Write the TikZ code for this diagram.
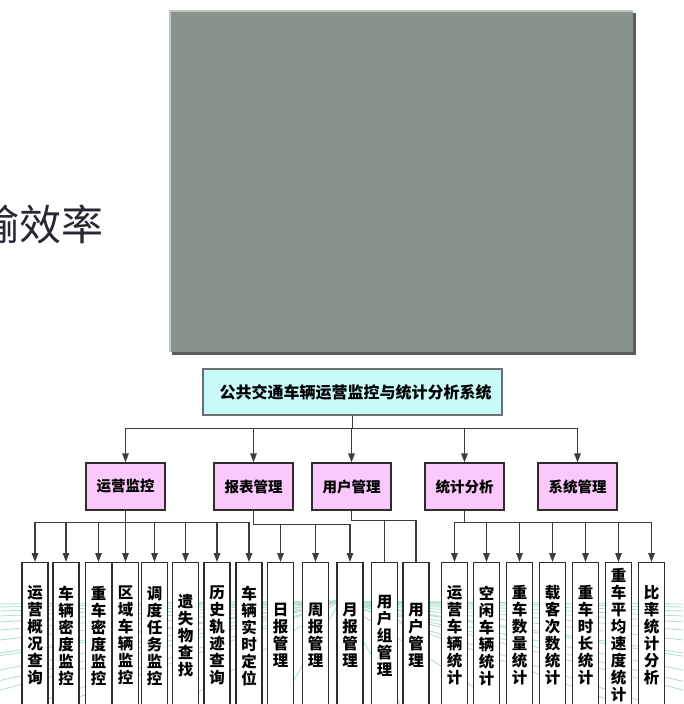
\documentclass[tikz,border=0pt]{standalone}
\usepackage{fontspec}
\newfontfamily\cjk{Noto Sans CJK SC}
\usetikzlibrary{arrows.meta}
\definecolor{rootfill}{RGB}{200,250,250}
\definecolor{rootline}{RGB}{110,110,110}
\definecolor{midfill}{RGB}{250,200,250}
\definecolor{boxline}{RGB}{45,45,45}
\definecolor{wire}{RGB}{60,60,60}
\definecolor{panel}{RGB}{138,146,140}
\definecolor{panellight}{RGB}{190,198,194}
\definecolor{panelshadow}{RGB}{88,95,90}
\definecolor{gridgreen}{RGB}{175,222,198}
\definecolor{toptext}{RGB}{40,40,52}
\begin{document}
\begin{tikzpicture}[x=1pt,y=-1pt,
  rootbox/.style={draw=rootline,line width=1.4pt,fill=rootfill,minimum width=299pt,minimum height=46pt,inner sep=0pt,font=\cjk\bfseries\fontsize{16}{18}\selectfont},
  midbox/.style={draw=boxline,line width=1.2pt,fill=midfill,minimum width=79pt,minimum height=47pt,inner sep=0pt,font=\cjk\bfseries\fontsize{14.5}{16}\selectfont},
  leafbox/.style={draw=boxline,line width=1.2pt,fill=white,anchor=north,minimum width=26pt,minimum height=146pt,inner sep=0pt,align=center,font=\cjk\bfseries\fontsize{15.5}{17}\selectfont},
  arr/.style={draw=wire,line width=1.3pt,-{Triangle[length=9pt,width=6.5pt]}},
  plainline/.style={draw=wire,line width=1.3pt}]
\useasboundingbox (0,0) rectangle (683,704);
\clip (0,0) rectangle (683,704);
\fill[white] (0,0) rectangle (683,704);
% top fragment
\node[anchor=east,inner sep=0pt,text=toptext,font=\cjk\fontsize{42}{44}\selectfont] (frag) at (104,224) {输效率};
% gray panel
\fill[panelshadow] (172,13) rectangle (636,355);
\fill[panellight] (169,10) rectangle (633,352);
\fill[panel] (170.5,11.5) rectangle (633,352);
% faint background grid
\begin{scope}[gridgreen,line width=0.8pt]
  \foreach \yy in {604,607,611,616,622,630,640,653,670,690,715}{
    \draw (340,601) -- (0,\yy);
    \draw (340,601) -- (683,\yy);
  }
  \foreach \xx in {-300,-100,60,180,280,400,500,620,780,980}{
    \draw (340,601) -- (\xx,704);
  }
\end{scope}
% root
\node[rootbox] (root) at (352.5,392) {\hspace*{6pt}公共交通车辆运营监控与统计分析系统};
% second tier
\node[midbox] (m1) at (125.5,486.5) {运营监控};
\node[midbox] (m2) at (253.5,486.5) {报表管理};
\node[midbox] (m3) at (351.5,486.5) {用户管理};
\node[midbox] (m4) at (464.5,486.5) {统计分析};
\node[midbox] (m5) at (577.5,486.5) {系统管理};
% leaves
\node[leafbox] (c1) at (35,562) {运\\营\\概\\况\\查\\询};
\node[leafbox] (c2) at (66,562) {车\\辆\\密\\度\\监\\控};
\node[leafbox] (c3) at (98.5,562) {重\\车\\密\\度\\监\\控};
\node[leafbox] (c4) at (125.5,562) {区\\域\\车\\辆\\监\\控};
\node[leafbox] (c5) at (154.5,562) {调\\度\\任\\务\\监\\控};
\node[leafbox] (c6) at (185.5,562) {遗\\失\\物\\查\\找};
\node[leafbox] (c7) at (217,562) {历\\史\\轨\\迹\\查\\询};
\node[leafbox] (c8) at (249,562) {车\\辆\\实\\时\\定\\位};
\node[leafbox] (c9) at (280.5,562) {日\\报\\管\\理};
\node[leafbox] (c10) at (315.5,562) {周\\报\\管\\理};
\node[leafbox] (c11) at (350,562) {月\\报\\管\\理};
\node[leafbox] (c12) at (384.5,562) {用\\户\\组\\管\\理};
\node[leafbox] (c13) at (416,562) {用\\户\\管\\理};
\node[leafbox] (c14) at (454.5,562) {运\\营\\车\\辆\\统\\计};
\node[leafbox] (c15) at (486.5,562) {空\\闲\\车\\辆\\统\\计};
\node[leafbox] (c16) at (519.5,562) {重\\车\\数\\量\\统\\计};
\node[leafbox] (c17) at (552.5,562) {载\\客\\次\\数\\统\\计};
\node[leafbox] (c18) at (585.5,562) {重\\车\\时\\长\\统\\计};
\node[leafbox] (c19) at (618.5,562) {重\\车\\平\\均\\速\\度\\统\\计};
\node[leafbox] (c20) at (651.5,562) {比\\率\\统\\计\\分\\析};
% connectors root -> tier 2
\foreach \m in {m1,m2,m3,m4,m5}
  \draw[arr] (root.south) -- ++(0,13) -| (\m.north);
% tier 2 -> leaves
\foreach \i in {1,...,8}
  \draw[arr] (m1.south) -- ++(0,12) -| (c\i.north);
\foreach \i in {9,10,11}
  \draw[arr] (m2.south) -- ++(0,14) -| (c\i.north);
\foreach \i in {12,13}
  \draw[plainline] (m3.south) -- ++(0,10) -| (c\i.north);
\foreach \i in {14,...,20}
  \draw[arr] (m4.south) -- ++(0,12) -| (c\i.north);
\end{tikzpicture}
\end{document}
